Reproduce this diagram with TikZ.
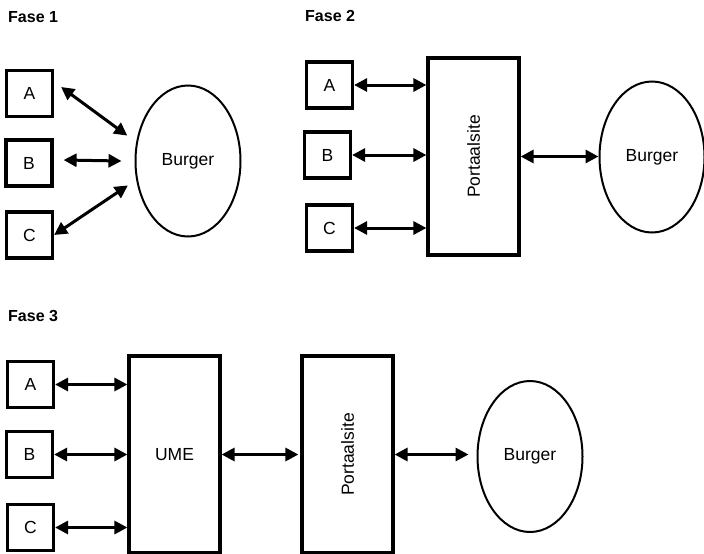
\documentclass[tikz,border=0pt]{standalone}
\usepackage{fontspec}
\setmainfont{Liberation Sans}
\usepackage{tikz}
\usetikzlibrary{arrows.meta,shapes.geometric}

\begin{document}
\begin{tikzpicture}[x=1pt,y=-1pt,
  party/.style={draw,line width=3.2pt,minimum width=46pt,minimum height=46pt,inner sep=0pt,font=\fontsize{17.5}{20}\selectfont},
  tall/.style={draw,line width=3.2pt,minimum width=91pt,minimum height=197pt,inner sep=0pt,font=\fontsize{17.5}{20}\selectfont},
  burger/.style={draw,ellipse,line width=2pt,minimum width=105pt,minimum height=151pt,inner sep=0pt,font=\fontsize{17.5}{20}\selectfont},
  fase/.style={anchor=west,inner sep=0pt,font=\fontsize{16}{19}\selectfont\bfseries},
  dbl/.style={{Triangle[length=13pt,width=13pt]}-{Triangle[length=13pt,width=13pt]},line width=3pt}]
  \useasboundingbox (0,0) rectangle (704,554);
  % Fase 1
  \node[fase] (f1) at (8,17) {Fase 1};
  \node[party]  (A1)   at (29.5,93.5) {A};
  \node[party]  (B1)   at (29,163)    {B};
  \node[party]  (C1)   at (29.5,235)  {C};
  \node[burger] (bur1) at (188,161)   {Burger};
  \draw[dbl,shorten >=11pt] ([xshift=7pt,yshift=6.5pt]A1.east) -- (bur1.160);
  \draw[dbl] ([xshift=10pt,yshift=3pt]B1.east) -- ([xshift=-13pt]bur1.west);
  \draw[dbl,shorten >=10pt] (C1.east) -- (bur1.200);
  % Fase 2
  \node[fase] (f2) at (305,16) {Fase 2};
  \node[party]  (A2)   at (329.5,85)  {A};
  \node[party]  (B2)   at (327.5,155) {B};
  \node[party]  (C2)   at (329.5,228) {C};
  \node[tall]   (pt2)  at (473.5,156.5) {\rotatebox{90}{Portaalsite}};
  \node[burger] (bur2) at (652,157)   {Burger};
  \draw[dbl] (A2.east) -- (A2.east -| pt2.west);
  \draw[dbl] (B2.east) -- (B2.east -| pt2.west);
  \draw[dbl] (C2.east) -- (C2.east -| pt2.west);
  \draw[dbl] (pt2.east) -- (pt2.east -| bur2.west);
  % Fase 3
  \node[fase] (f3) at (8,316) {Fase 3};
  \node[party]  (A3)   at (30.5,384.5) {A};
  \node[party]  (B3)   at (29.5,454.5) {B};
  \node[party]  (C3)   at (30.5,527.5) {C};
  \node[tall]   (ume)  at (174.5,454.5) {UME};
  \node[tall]   (pt3)  at (347.5,454.5) {\rotatebox{90}{Portaalsite}};
  \node[burger] (bur3) at (530,456.5)  {Burger};
  \draw[dbl] (A3.east) -- (A3.east -| ume.west);
  \draw[dbl] (B3.east) -- (B3.east -| ume.west);
  \draw[dbl] (C3.east) -- (C3.east -| ume.west);
  \draw[dbl,shorten >=2pt] (ume.east) -- (pt3.west);
  \draw[dbl,shorten >=8pt] (pt3.east) -- (pt3.east -| bur3.west);
\end{tikzpicture}
\end{document}
